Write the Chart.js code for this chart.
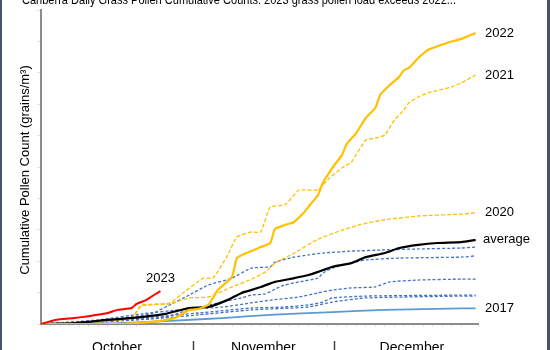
<!DOCTYPE html>
<html>
<head>
<meta charset="utf-8">
<script src="https://cdn.jsdelivr.net/npm/chart.js@4"></script>
<style>
  html, body { margin: 0; padding: 0; background: #fff; }
  #wrap { width: 550px; height: 350px; position: relative; }
</style>
</head>
<body>
<div id="wrap"><canvas id="chart" width="550" height="350"></canvas></div>
<script>

/**********/
/********** DATA (day 0 = 1 October, values in grains/m3) **********/
/**********/

const titleText = 'Canberra Daily Grass Pollen Cumulative Counts: 2023 grass pollen load exceeds 2022...'
const yTitle = 'Cumulative Pollen Count (grains/m\u00B3)'
const months = ['October', 'November', 'December']
const monthEdges = [0, 31.8, 61.3, 94]

const days2023 = [0, 3, 7, 10, 14, 16, 19, 20, 22, 23, 25]
const vals2023 = [0, 130, 190, 250, 350, 450, 510, 640, 760, 860, 1050]

const days2022 = [0, 16, 25, 28, 31, 33, 35, 36, 37, 40, 41, 43, 46, 48, 49, 51, 53, 55, 56, 58, 59, 61, 63, 64, 66, 68, 70, 71, 73, 75, 76, 77, 79, 81, 82, 85, 88, 91]
const vals2022 = [0, 0, 100, 190, 450, 480, 610, 830, 1080, 1500, 2100, 2260, 2450, 2580, 3030, 3150, 3250, 3540, 3730, 4110, 4490, 4970, 5380, 5730, 6080, 6560, 6880, 7290, 7610, 7870, 8090, 8150, 8470, 8730, 8790, 8950, 9080, 9270]

const days2021 = [0, 14, 19, 21, 27, 30, 34, 36, 39, 41, 44, 46, 48, 51, 53, 54, 58, 60, 63, 65, 68, 70, 72, 74, 76, 77, 79, 81, 86, 88, 91]
const vals2021 = [0, 100, 190, 570, 670, 1020, 1460, 1460, 2170, 2770, 2930, 2930, 3730, 3790, 4110, 4270, 4270, 4590, 4970, 5160, 5860, 5920, 6020, 6500, 6820, 7040, 7230, 7360, 7550, 7680, 7930]

const days2020 = [0, 12, 19, 21, 27, 31, 35, 40, 44, 47, 49, 53, 58, 63, 67, 72, 79, 88, 91]
const vals2020 = [0, 60, 190, 600, 640, 830, 860, 1180, 1420, 1660, 1940, 2260, 2700, 2990, 3170, 3320, 3440, 3500, 3540]

const daysAvg = [0, 7, 14, 21, 26, 31, 35, 39, 42, 44, 46, 49, 53, 56, 58, 61, 65, 68, 72, 75, 79, 83, 88, 91]
const valsAvg = [0, 30, 130, 220, 320, 510, 540, 760, 990, 1080, 1180, 1340, 1460, 1560, 1660, 1820, 1940, 2130, 2260, 2420, 2520, 2580, 2610, 2680]

const days2017 = [0, 16, 27, 38, 48, 61, 72, 88, 91]
const vals2017 = [0, 30, 100, 190, 290, 380, 450, 500, 500]

// other years, drawn as blue dashes without labels
const daysBlueA = [0, 12, 23, 27, 31, 35, 40, 44, 48, 49, 53, 56, 59, 65, 72, 79, 88, 91]
const valsBlueA = [0, 100, 320, 610, 920, 1240, 1460, 1780, 1820, 1970, 2130, 2200, 2260, 2320, 2360, 2390, 2420, 2450]
const daysBlueB = [0, 12, 26, 31, 37, 42, 44, 47, 49, 51, 54, 58, 59, 61, 65, 68, 75, 88, 91]
const valsBlueB = [0, 60, 220, 450, 670, 830, 920, 960, 1110, 1240, 1340, 1460, 1620, 1780, 1940, 2040, 2100, 2130, 2170]
const daysBlueC = [0, 12, 21, 29, 38, 44, 48, 54, 58, 61, 65, 70, 73, 79, 88, 91]
const valsBlueC = [0, 130, 320, 450, 540, 670, 760, 860, 990, 1080, 1150, 1180, 1340, 1400, 1430, 1430]
const daysBlueD = [0, 12, 23, 33, 44, 51, 56, 59, 61, 68, 88, 91]
const valsBlueD = [0, 100, 220, 350, 510, 540, 610, 700, 830, 890, 920, 920]
const daysBlueE = [0, 12, 23, 33, 44, 56, 61, 68, 88, 91]
const valsBlueE = [0, 60, 160, 290, 450, 540, 700, 830, 890, 890]

/**********/
/********** HELPERS **********/
/**********/

const toPoints = (days, vals) => days.map((d, i) => ({x: d, y: vals[i]}))

const GOLD = '#FFC000'
const BLUE = '#4472C4'

const line = (label, days, vals, color, width, dash) => ({
  label: label,
  data: toPoints(days, vals),
  borderColor: color,
  backgroundColor: color,
  borderWidth: width,
  borderDash: dash || [],
  pointRadius: 0,
  tension: 0.15,
  borderJoinStyle: 'round',
  fill: false
})

/**********/
/********** ANNOTATIONS PLUGIN **********/
/**********/

const annotations = {
  id: 'annotations',
  afterDraw: (chart) => {
    const ctx = chart.ctx
    const xs = chart.scales.x
    const ys = chart.scales.y
    const font = '"Liberation Sans", Arial, sans-serif'
    ctx.save()
    ctx.fillStyle = '#000'

    // title, clipped at the top as in the original
    ctx.font = '13px ' + font
    ctx.textAlign = 'center'
    ctx.textBaseline = 'alphabetic'
    ctx.fillText(titleText, 239, 4, 434)

    // y axis title
    ctx.save()
    ctx.translate(25, 170)
    ctx.rotate(-Math.PI / 2)
    ctx.font = '13px ' + font
    ctx.textBaseline = 'middle'
    ctx.fillText(yTitle, 0, 0, 222)
    ctx.restore()

    // series end labels
    ctx.font = '13px ' + font
    ctx.textAlign = 'left'
    ctx.textBaseline = 'middle'
    const ends = [['2022', vals2022], ['2021', vals2021], ['2020', vals2020], ['average', valsAvg], ['2017', vals2017]]
    ends.forEach(([txt, vals]) => {
      const lx = txt === 'average' ? 483 : 485
      ctx.fillText(txt, lx, ys.getPixelForValue(vals[vals.length - 1]))
    })
    const last = days2023.length - 1
    ctx.textAlign = 'center'
    ctx.fillText('2023', xs.getPixelForValue(days2023[last]), ys.getPixelForValue(vals2023[last]) - 13)

    // month labels and separators
    ctx.font = '14px ' + font
    ctx.textBaseline = 'alphabetic'
    months.forEach((m, i) => {
      const cx = (xs.getPixelForValue(monthEdges[i]) + xs.getPixelForValue(monthEdges[i + 1])) / 2
      ctx.fillText(m, cx, 352)
    })
    ctx.strokeStyle = '#444'
    ctx.lineWidth = 1.5
    monthEdges.slice(1, 3).forEach((d) => {
      const px = Math.round(xs.getPixelForValue(d)) + 0.5
      ctx.beginPath()
      ctx.moveTo(px, 341)
      ctx.lineTo(px, 350)
      ctx.stroke()
    })

    // frame edges
    ctx.fillStyle = '#44546A'
    ctx.fillRect(0, 0, 2, 350)
    ctx.fillRect(547, 0, 3, 350)
    ctx.restore()
  }
}

/**********/
/********** CHART **********/
/**********/

const datasets = [
  line('2023', days2023, vals2023, '#FF0000', 2),
  line('2022', days2022, vals2022, GOLD, 2.2),
  line('average', daysAvg, valsAvg, '#000000', 2.2),
  line('2021', days2021, vals2021, GOLD, 1.3, [4, 2]),
  line('2020', days2020, vals2020, GOLD, 1.3, [4, 2]),
  line('2017', days2017, vals2017, '#5B9BD5', 1.8),
  line('a', daysBlueA, valsBlueA, BLUE, 1.3, [3, 2]),
  line('b', daysBlueB, valsBlueB, BLUE, 1.3, [3, 2]),
  line('c', daysBlueC, valsBlueC, BLUE, 1.3, [3, 2]),
  line('d', daysBlueD, valsBlueD, BLUE, 1.3, [3, 2]),
  line('e', daysBlueE, valsBlueE, BLUE, 1.3, [3, 2])
]

new Chart(document.getElementById('chart'), {
  type: 'line',
  data: {datasets: datasets},
  plugins: [annotations],
  options: {
    responsive: false,
    animation: false,
    layout: {padding: {left: 37, top: 10, right: 72, bottom: 23}},
    plugins: {legend: {display: false}, tooltip: {enabled: false}},
    scales: {
      x: {
        type: 'linear',
        min: 0,
        max: 91.5,
        ticks: {display: false, stepSize: 2},
        grid: {drawOnChartArea: false, drawTicks: true, tickLength: 3, color: '#e2e2e2'},
        border: {color: '#8c8c8c', width: 2}
      },
      y: {
        min: 0,
        max: 10000,
        ticks: {display: false, stepSize: 1000},
        grid: {drawOnChartArea: false, drawTicks: true, tickLength: 4, color: '#e2e2e2'},
        border: {color: '#8c8c8c', width: 2}
      }
    }
  }
})
</script>
</body>
</html>
